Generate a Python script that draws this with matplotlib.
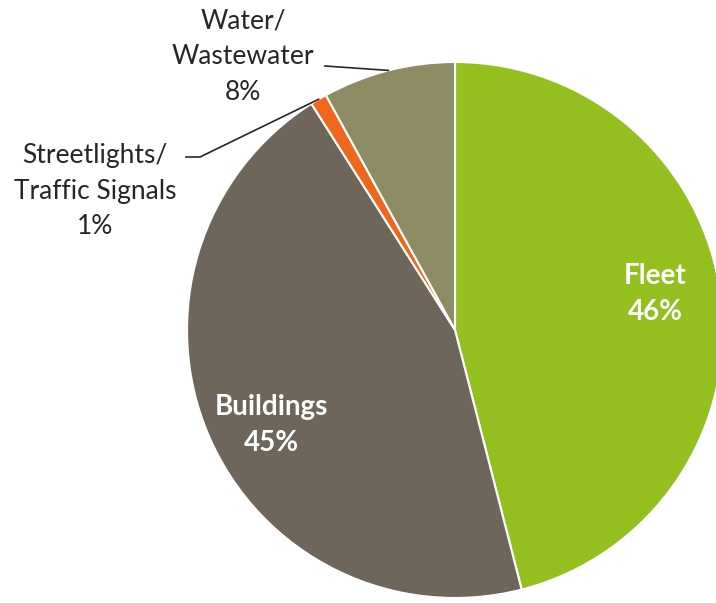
import matplotlib.pyplot as plt
import numpy as np

# Share of emissions by sector
categories = ['Fleet', 'Buildings', 'Streetlights/\nTraffic Signals', 'Water/\nWastewater']
values = [46, 45, 1, 8]
colors = ['#93C01F', '#6E665B', '#F0661B', '#8C8B63']

plt.rcParams['font.family'] = ['Lato', 'DejaVu Sans']

fig = plt.figure(figsize=(7.16, 6.03), dpi=100)
ax = fig.add_axes([0, 0, 1, 1])

cx, cy, r = 455, 273, 268
wedges, _ = ax.pie(values, colors=colors, startangle=90, counterclock=False,
                   center=(cx, cy), radius=r, frame=True,
                   wedgeprops=dict(edgecolor='white', linewidth=1.5))
ax.set_xlim(0, 716)
ax.set_ylim(0, 603)
ax.set_aspect('equal')
ax.axis('off')

def mid_angle(w):
    return np.deg2rad((w.theta1 + w.theta2) / 2)

# labels inside the two big slices
for w, name, v, dist, off in [(wedges[0], categories[0], values[0], 0.76, 3),
                              (wedges[1], categories[1], values[1], 0.77, 4)]:
    a = mid_angle(w) + np.deg2rad(off)
    ax.text(cx + dist * r * np.cos(a), cy + dist * r * np.sin(a), f'{name}\n{v}%',
            ha='center', va='center', color='white', fontsize=20, fontweight='bold',
            linespacing=1.5)

# outside labels with leader lines
a = mid_angle(wedges[3])
ax.text(243, 546, f'{categories[3]}\n{values[3]}%', ha='center', va='center',
        fontsize=19, linespacing=1.55, color='#262626')
ax.plot([325, cx + r * np.cos(a)], [537, cy + r * np.sin(a)], color='#262626', lw=1.2)

a = mid_angle(wedges[2])
ax.text(95, 412, f'{categories[2]}\n{values[2]}%', ha='center', va='center',
        fontsize=19, linespacing=1.55, color='#262626')
ax.plot([186, 200, cx + r * np.cos(a)], [446, 446, cy + r * np.sin(a)], color='#262626', lw=1.2)

fig.savefig('out.png', dpi=100)
